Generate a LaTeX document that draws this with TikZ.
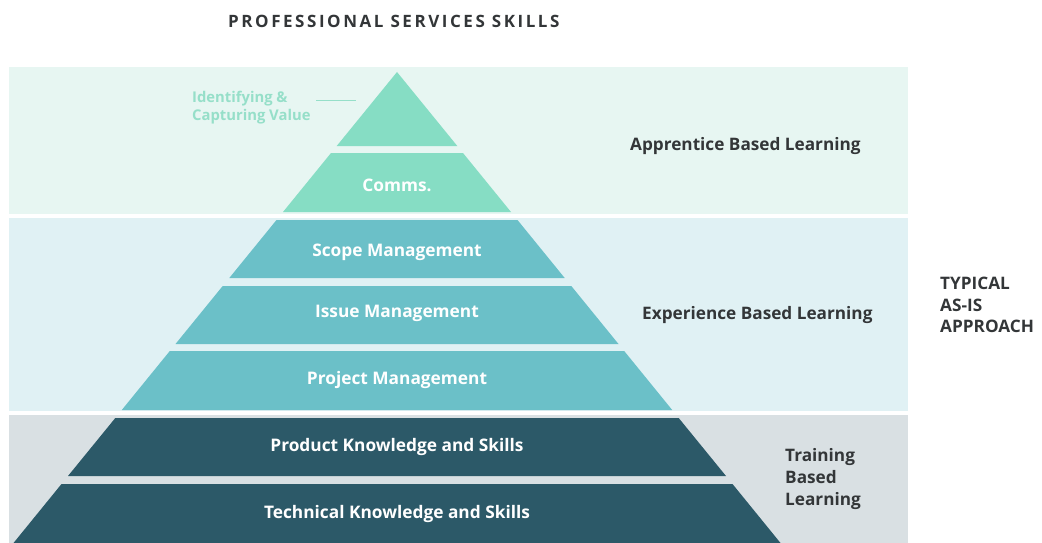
\documentclass[tikz,border=0pt]{standalone}
\usepackage{fontspec}
\setmainfont{Open Sans}
\newfontfamily\titlefont[LetterSpace=15]{Open Sans}
\usepackage{tikz}
\usetikzlibrary{positioning}

\definecolor{mintband}{HTML}{E7F6F2}
\definecolor{blueband}{HTML}{E0F1F4}
\definecolor{greyband}{HTML}{D9E0E3}
\definecolor{mintlayer}{HTML}{86DDC4}
\definecolor{teallayer}{HTML}{6BC0C8}
\definecolor{darklayer}{HTML}{2C5968}
\definecolor{mintlabel}{HTML}{96DFC9}
\definecolor{darktext}{HTML}{333638}

\begin{document}
\begin{tikzpicture}[x=1pt,y=-1pt]
  \tikzset{LayerLabel/.style = {
    text          = white,
    font          = \bfseries\fontsize{17.3}{20}\selectfont,
    inner sep     = 0pt,
    anchor        = center
    }
  }
  \tikzset{SideLabel/.style = {
    text          = darktext,
    font          = \bfseries\fontsize{17.2}{21.8}\selectfont,
    align         = left,
    inner sep     = 0pt
    }
  }
  \useasboundingbox (0,0) rectangle (1042,543);
  % bands
  \fill[mintband] (9,67) rectangle (908,214);
  \fill[blueband] (9,218) rectangle (908,411);
  \fill[greyband] (9,415) rectangle (908,543);
  % pyramid
  \fill[mintlayer] (397,72) -- (457.3,146) -- (336.7,146) -- cycle;
  \fill[mintlayer] (331,153) -- (463,153) -- (511,212) -- (283,212) -- cycle;
  \fill[teallayer] (276.5,220) -- (517.5,220) -- (564.7,278) -- (229.3,278) -- cycle;
  \fill[teallayer] (222.7,286) -- (571.3,286) -- (618.5,344) -- (175.5,344) -- cycle;
  \fill[teallayer] (169.8,351) -- (624.2,351) -- (672.2,410) -- (121.8,410) -- cycle;
  \fill[darklayer] (115.3,418) -- (678.7,418) -- (726,476) -- (68,476) -- cycle;
  \fill[darklayer] (61.5,484) -- (732.5,484) -- (780.5,543) -- (13.5,543) -- cycle;
  %
  \node[LayerLabel](comms) at (397,185) {Comms.};
  \node[LayerLabel](scope) at (397,252) {Scope Management};
  \node[LayerLabel](issue) at (397,313) {Issue Management};
  \node[LayerLabel](project) at (397,380) {Project Management};
  \node[LayerLabel](product) at (397,447) {Product Knowledge and Skills};
  \node[LayerLabel](technical) at (397,514) {Technical Knowledge and Skills};
  %
  \node[SideLabel, text=mintlabel, font=\bfseries\fontsize{14.8}{18}\selectfont, anchor=west](value) at (192,108) {Identifying \&\\Capturing Value};
  \coordinate (valuetip) at (356,100);
  \draw[mintlabel, line width=1pt] (316,100) -- (valuetip);
  %
  \node[SideLabel, anchor=west](apprentice) at (630,146) {Apprentice Based Learning};
  \node[SideLabel, anchor=west](experience) at (642,315) {Experience Based Learning};
  \node[SideLabel, anchor=west](training) at (785,479) {Training\\Based\\Learning};
  \node[SideLabel, anchor=west](typical) at (940,305) {TYPICAL\\AS-IS\\APPROACH};
  \node[text=darktext, font=\titlefont\bfseries\fontsize{17}{20}\selectfont, anchor=west, inner sep=0pt](title) at (228,21) {PROFESSIONAL SERVICES SKILLS};
\end{tikzpicture}
\end{document}
